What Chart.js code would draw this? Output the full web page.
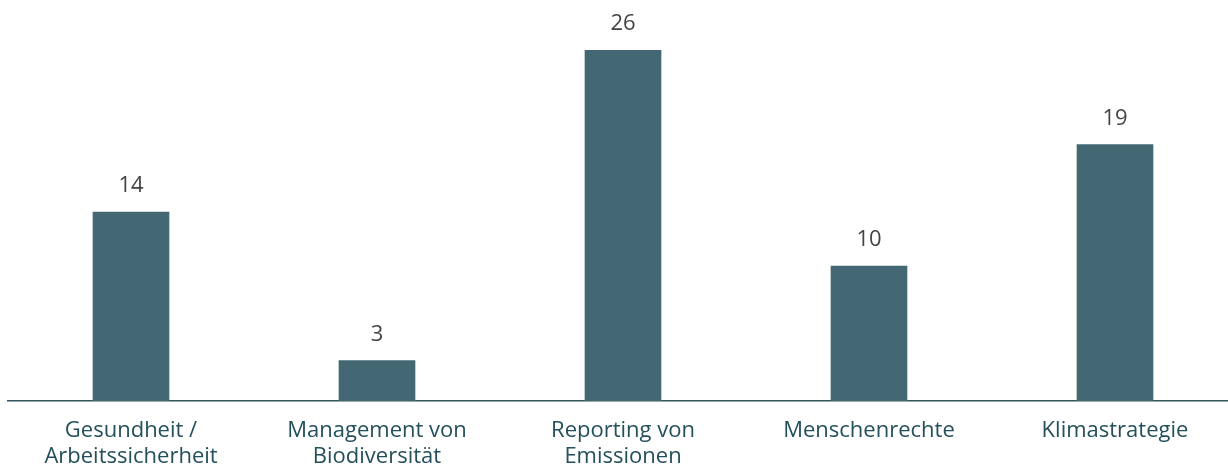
<!DOCTYPE html>
<html lang="de">
<head>
<meta charset="utf-8">
<script src="https://cdn.jsdelivr.net/npm/chart.js@4/dist/chart.umd.min.js"></script>
<style>
  html, body { margin: 0; padding: 0; background: #fff; overflow: hidden; }
  #wrap { width: 1240px; height: 466px; }
</style>
</head>
<body>
<div id="wrap"><canvas id="c" width="1240" height="466"></canvas></div>
<script>
// Themen und Anzahl der Nennungen
const categories = [
  ['Gesundheit /', 'Arbeitssicherheit'],
  ['Management von', 'Biodiversität'],
  ['Reporting von', 'Emissionen'],
  ['Menschenrechte'],
  ['Klimastrategie']
];
const values = [14, 3, 26, 10, 19];

const FONT = '"Open Sans", "Noto Sans", sans-serif';

// Wert über jedem Balken ausgeben
const valueLabels = {
  id: 'valueLabels',
  afterDatasetsDraw(chart) {
    const { ctx } = chart;
    const meta = chart.getDatasetMeta(0);
    ctx.save();
    ctx.font = '22px ' + FONT;
    ctx.fillStyle = '#444444';
    ctx.textAlign = 'center';
    ctx.textBaseline = 'middle';
    meta.data.forEach((bar, i) => {
      ctx.fillText(String(chart.data.datasets[0].data[i]), bar.x, bar.y - 26);
    });
    ctx.restore();
  }
};

new Chart(document.getElementById('c'), {
  type: 'bar',
  data: {
    labels: categories,
    datasets: [{
      data: values,
      backgroundColor: '#436873',
      barThickness: 76
    }]
  },
  options: {
    responsive: false,
    animation: false,
    layout: { padding: { top: 50, left: 8, right: 2, bottom: 0 } },
    plugins: { legend: { display: false }, tooltip: { enabled: false } },
    scales: {
      x: {
        grid: { display: false, drawTicks: false },
        border: { display: true, color: '#2e5560', width: 1.5 },
        ticks: {
          color: '#24505b',
          font: { family: FONT, size: 22, lineHeight: 1.18 },
          padding: 17,
          maxRotation: 0,
          autoSkip: false
        },
        afterFit(scale) { scale.height = 65; }
      },
      y: {
        display: false,
        min: 0,
        max: 26
      }
    }
  },
  plugins: [valueLabels]
});
</script>
</body>
</html>
